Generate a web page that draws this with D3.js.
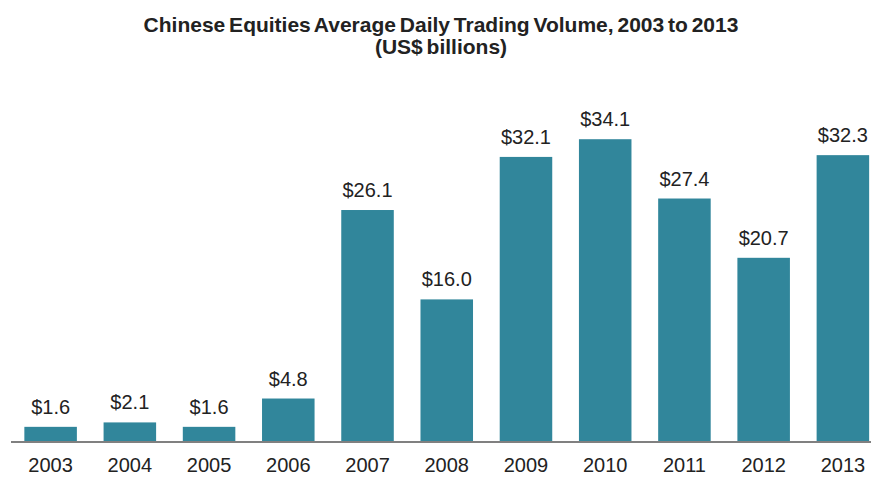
<!DOCTYPE html>
<html>
<head>
<meta charset="utf-8">
<script src="https://cdn.jsdelivr.net/npm/d3@7"></script>
<style>
  body { margin: 0; background: #fff; }
  svg { display: block; font-family: "Liberation Sans", Arial, sans-serif; }
</style>
</head>
<body>
<svg width="871" height="477"></svg>
<script>
var years = ["2003", "2004", "2005", "2006", "2007", "2008", "2009", "2010", "2011", "2012", "2013"];
var volumes = [1.6, 2.1, 1.6, 4.8, 26.1, 16.0, 32.1, 34.1, 27.4, 20.7, 32.3];
var titleLines = ["Chinese Equities Average Daily Trading Volume, 2003 to 2013", "(US$ billions)"];

var svg = d3.select("svg"),
    width = +svg.attr("width"),
    height = +svg.attr("height");

var baseY = 441;

var x = d3.scaleBand()
    .domain(years)
    .range([11, 882.5])
    .paddingInner(0.337)
    .paddingOuter(0.337 / 2);

var y = d3.scaleLinear()
    .domain([0, 40])
    .range([baseY, baseY - 40 * 8.85]);

// title
svg.append("g").selectAll("text")
    .data(titleLines)
    .enter().append("text")
    .attr("x", 441)
    .attr("y", function(d, i) { return 32 + i * 22; })
    .attr("text-anchor", "middle")
    .attr("font-size", "21px")
    .attr("font-weight", "bold")
    .attr("word-spacing", "-2px")
    .attr("fill", "#222")
    .text(function(d) { return d; });

var data = years.map(function(yr, i) { return {year: yr, value: volumes[i]}; });

svg.append("g").selectAll("rect")
    .data(data)
    .enter().append("rect")
    .attr("x", function(d) { return x(d.year); })
    .attr("width", x.bandwidth())
    .attr("y", function(d) { return y(d.value); })
    .attr("height", function(d) { return baseY - y(d.value); })
    .attr("fill", "#31869b");

// value labels
svg.append("g").selectAll("text")
    .data(data)
    .enter().append("text")
    .attr("x", function(d) { return x(d.year) + x.bandwidth() / 2; })
    .attr("y", function(d) { return y(d.value) - 13; })
    .attr("text-anchor", "middle")
    .attr("font-size", "20px")
    .attr("fill", "#222")
    .text(function(d) { return "$" + d.value.toFixed(1); });

// x axis
var xAxis = svg.append("g")
    .attr("transform", "translate(0," + baseY + ")")
    .call(d3.axisBottom(x).tickSize(0));
xAxis.select(".domain").remove();
xAxis.selectAll("text")
    .attr("y", 31)
    .attr("dy", null)
    .attr("font-size", "20px")
    .attr("font-family", "Liberation Sans, Arial, sans-serif")
    .attr("fill", "#222");

svg.append("line")
    .attr("x1", 11).attr("x2", 871)
    .attr("y1", baseY + 1).attr("y2", baseY + 1)
    .attr("stroke", "#808080")
    .attr("stroke-width", 2);
</script>
</body>
</html>
